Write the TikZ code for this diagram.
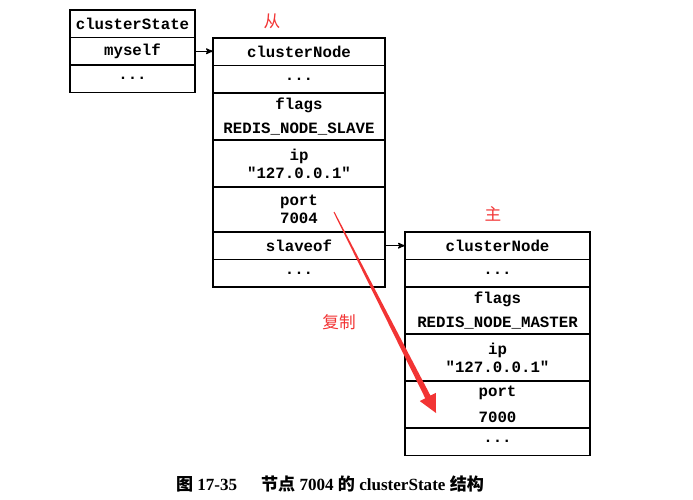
\documentclass[tikz,border=0pt]{standalone}
\usepackage{fontspec}
\setmainfont{Liberation Serif}
\setmonofont{Liberation Mono}
\newfontfamily\cjk{Noto Sans CJK SC}
\usetikzlibrary{arrows,calc,positioning}
\definecolor{notered}{RGB}{242,52,52}

\begin{document}
\begin{tikzpicture}
[x=0.75pt,y=-0.75pt,>=stealth',node distance=0pt,font=\ttfamily\bfseries\fontsize{11.8}{13.5}\selectfont]
\tikzstyle{cell}=[rectangle,draw,line width=1.1pt,outer sep=0pt,inner sep=0pt,align=center,minimum height=20.6pt]
\tikzstyle{csrow}=[cell,minimum width=93.75pt]
\tikzstyle{slaverow}=[cell,minimum width=129pt]
\tikzstyle{masterrow}=[cell,minimum width=138.75pt]
\tikzstyle{tall}=[minimum height=35.25pt]
\tikzstyle{note}=[text=notered,font=\cjk\fontsize{12.5}{14}\selectfont]

\useasboundingbox (0,0) rectangle (693,500);

% clusterState
\node[csrow,anchor=north] (cs_head) at (132.5,10) {clusterState};
\node[csrow] (cs_myself) [below=of cs_head] {myself};
\node[csrow] (cs_more) [below=of cs_myself] {...};

% node 7004 (slave)
\node[slaverow,anchor=north] (slave_head) at (299,38) {clusterNode};
\node[slaverow] (slave_more1) [below=of slave_head] {...};
\node[slaverow,tall] (slave_flags) [below=of slave_more1] {flags\\[4.5pt]REDIS\_NODE\_SLAVE};
\node[slaverow,tall] (slave_ip) [below=of slave_flags] {ip\\"127.0.0.1"};
\node[slaverow,tall,minimum height=33.75pt] (slave_port) [below=of slave_ip] {port\\7004};
\node[slaverow] (slave_of) [below=of slave_port] {slaveof};
\node[slaverow] (slave_more2) [below=of slave_of] {...};

% node 7000 (master)
\node[masterrow,anchor=north] (master_head) at (497.5,232) {clusterNode};
\node[masterrow] (master_more1) [below=of master_head] {...};
\node[masterrow,tall] (master_flags) [below=of master_more1] {flags\\[5pt]REDIS\_NODE\_MASTER};
\node[masterrow,tall] (master_ip) [below=of master_flags] {ip\\"127.0.0.1"};
\node[masterrow,tall] (master_port) [below=of master_ip] {port\\[6pt]7000};
\node[masterrow] (master_more2) [below=of master_port] {...};

\path[->,line width=0.9pt]
			(cs_myself.east) 	edge (cs_myself.east -| slave_head.west)
			(slave_of.east) 	edge (slave_of.east -| master_head.west)
			;

% notes
\node[note] (note_slave) at (272,21) {从};
\node[note] (note_master) at (493,214) {主};
\node[note] (note_copy) at (339,322) {复制};

% replication arrow
\coordinate (rep_from) at (334,212);
\coordinate (rep_to) at (436,413);
\coordinate (rep_head) at ($(rep_to)!13.5pt!(rep_from)$);
\fill[notered]
	($(rep_from)!0.4pt!90:(rep_to)$) --
	($(rep_head)!2.2pt!90:(rep_to)$) --
	($(rep_head)!6.8pt!90:(rep_to)$) --
	(rep_to) --
	($(rep_head)!6.8pt!-90:(rep_to)$) --
	($(rep_head)!2.2pt!-90:(rep_to)$) --
	($(rep_from)!0.4pt!-90:(rep_to)$) -- cycle;

% caption
\node[font=\rmfamily\bfseries\fontsize{12.8}{14}\selectfont] (caption) at (330,484)
	{{\cjk 图}~17-35\hspace{1.4em}{\cjk 节点}~7004~{\cjk 的}~clusterState~{\cjk 结构}};
\end{tikzpicture}
\end{document}
